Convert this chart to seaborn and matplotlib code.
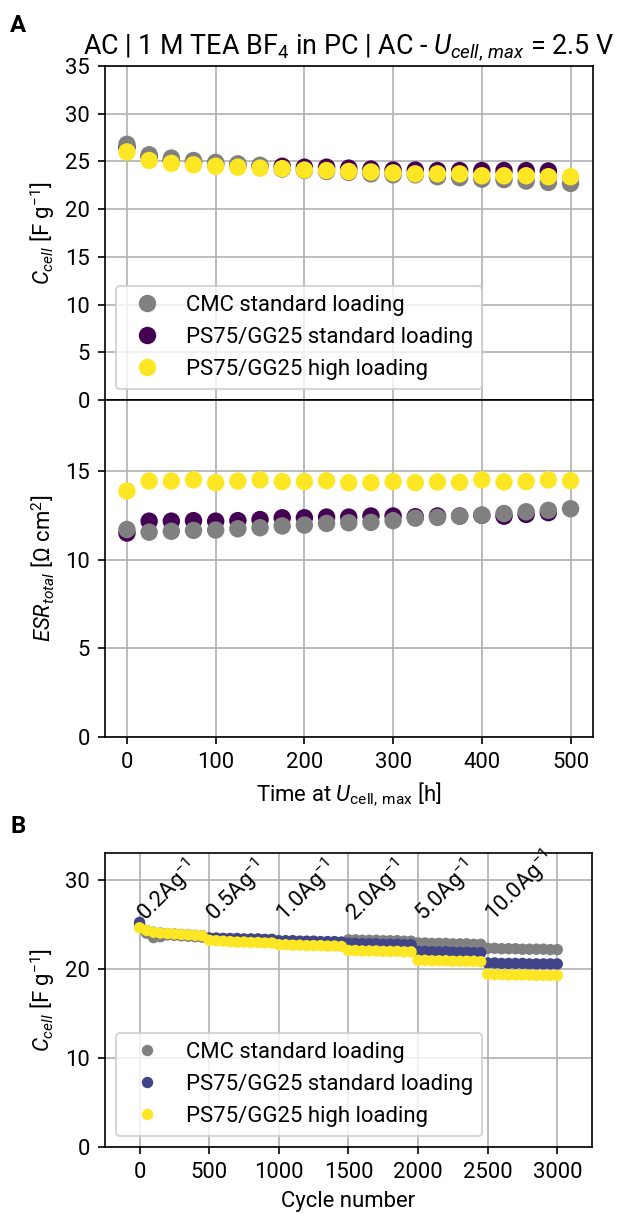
import numpy as np
import pandas as pd
import matplotlib
matplotlib.use("Agg")
import matplotlib.pyplot as plt
import seaborn as sns

# ---------------- data ----------------
labels = ["CMC standard loading", "PS75/GG25 standard loading", "PS75/GG25 high loading"]

# A: float test, every 25 h
time_h = [0, 25, 50, 75, 100, 125, 150, 175, 200, 225, 250,
          275, 300, 325, 350, 375, 400, 425, 450, 475, 500]
cap_cmc = [26.8, 25.7, 25.35, 25.1, 24.9, 24.75, 24.6, 24.2, 24.05, 23.95, 23.85,
           23.7, 23.6, 23.6, 23.4, 23.3, 23.15, 23.1, 22.95, 22.8, 22.7]
cap_ps_std = [26.5, 25.5, 25.1, 24.9, 24.7, 24.6, 24.5, 24.5, 24.4, 24.4,
              24.3, 24.2, 24.1, 24.1, 24.05, 24.05, 24.05, 24.05, 24.05, 24.0]
cap_ps_high = [26.0, 25.1, 24.8, 24.65, 24.5, 24.4, 24.3, 24.25, 24.1, 24.05, 23.95,
               23.9, 23.8, 23.7, 23.7, 23.7, 23.5, 23.5, 23.5, 23.4, 23.4]
esr_cmc = [11.7, 11.55, 11.6, 11.65, 11.67, 11.74, 11.8, 11.9, 11.95, 12.04, 12.08,
           12.1, 12.2, 12.34, 12.38, 12.45, 12.5, 12.6, 12.7, 12.78, 12.87]
esr_ps_std = [11.5, 12.17, 12.17, 12.2, 12.17, 12.2, 12.26, 12.36, 12.36, 12.4,
              12.4, 12.46, 12.46, 12.42, 12.46, 12.46, 12.5, 12.45, 12.55, 12.65]
esr_ps_high = [13.87, 14.43, 14.43, 14.5, 14.34, 14.43, 14.5, 14.4, 14.4, 14.45, 14.34,
               14.34, 14.4, 14.34, 14.38, 14.36, 14.5, 14.38, 14.4, 14.5, 14.45]

# B: rate test, every 50 cycles
cycles = list(range(0, 3001, 50))
rate_cmc = [24.8, 24.0, 23.5, 23.6, 23.8, 23.75, 23.7, 23.65, 23.6, 23.55,
            23.45, 23.4, 23.4, 23.35, 23.35, 23.3, 23.3, 23.3, 23.25, 23.25,
            23.1, 23.1, 23.1, 23.05, 23.05, 23.05, 23.0, 23.0, 23.0, 22.95,
            23.25, 23.25, 23.2, 23.2, 23.2, 23.15, 23.15, 23.15, 23.1, 23.1,
            22.9, 22.9, 22.85, 22.85, 22.85, 22.8, 22.8, 22.8, 22.75, 22.75,
            22.3, 22.3, 22.25, 22.25, 22.25, 22.2, 22.2, 22.2, 22.2, 22.15, 22.15]
rate_ps_std = [25.2, 24.3, 24.1, 24.0, 23.95, 23.9, 23.85, 23.8, 23.75, 23.7,
               23.45, 23.45, 23.4, 23.4, 23.4, 23.35, 23.35, 23.35, 23.3, 23.3,
               23.15, 23.15, 23.15, 23.1, 23.1, 23.1, 23.05, 23.05, 23.05, 23.0,
               22.85, 22.85, 22.8, 22.8, 22.8, 22.75, 22.75, 22.75, 22.7, 22.7,
               21.95, 21.95, 21.9, 21.9, 21.9, 21.85, 21.85, 21.85, 21.8, 21.8,
               20.65, 20.65, 20.6, 20.6, 20.6, 20.6, 20.55, 20.55, 20.55, 20.55, 20.55]
rate_ps_high = [24.6, 24.3, 24.1, 24.0, 23.95, 23.9, 23.85, 23.8, 23.75, 23.7,
                23.2, 23.15, 23.1, 23.05, 23.0, 23.0, 22.95, 22.95, 22.9, 22.9,
                22.7, 22.7, 22.65, 22.65, 22.6, 22.6, 22.6, 22.55, 22.55, 22.5,
                22.05, 22.05, 22.0, 22.0, 22.0, 21.95, 21.95, 21.95, 21.9, 21.9,
                20.95, 20.95, 20.9, 20.9, 20.9, 20.85, 20.85, 20.85, 20.85, 20.8,
                19.4, 19.35, 19.35, 19.3, 19.3, 19.3, 19.3, 19.25, 19.25, 19.25, 19.25]
rate_labels = ["0.2", "0.5", "1.0", "2.0", "5.0", "10.0"]
rate_start = [0, 500, 1000, 1500, 2000, 2500]

pal_a = {labels[0]: "#808080", labels[1]: "#440154", labels[2]: "#fde725"}
pal_b = {labels[0]: "#808080", labels[1]: "#414487", labels[2]: "#fde725"}


def frame(x, ys, order):
    parts = []
    for i in order:
        n = len(ys[i])
        parts.append(pd.DataFrame({"x": x[:n], "y": ys[i], "sample": labels[i]}))
    return pd.concat(parts, ignore_index=True)


# draw order: purple below grey, yellow on top (as in the original)
df_cap = frame(time_h, [cap_cmc, cap_ps_std, cap_ps_high], [1, 0, 2])
df_esr = frame(time_h, [esr_cmc, esr_ps_std, esr_ps_high], [1, 0, 2])
df_rate = frame(cycles, [rate_cmc, rate_ps_std, rate_ps_high], [0, 1, 2])

# ---------------- style ----------------
plt.rcParams["font.family"] = ["Roboto", "DejaVu Sans"]
plt.rcParams["font.size"] = 10.6
plt.rcParams["mathtext.fontset"] = "custom"
plt.rcParams["mathtext.rm"] = "Roboto"
plt.rcParams["mathtext.it"] = "Roboto:italic"
plt.rcParams["mathtext.bf"] = "Roboto:bold"
plt.rcParams["mathtext.sf"] = "Roboto"

fig = plt.figure(figsize=(620 / 150, 1214 / 150), dpi=150)
ax1 = fig.add_axes([0.169, 0.6705, 0.787, 0.2751])
ax2 = fig.add_axes([0.169, 0.3929, 0.787, 0.2776], sharex=ax1)
ax3 = fig.add_axes([0.169, 0.0552, 0.786, 0.2422])

sns.scatterplot(data=df_cap, x="x", y="y", hue="sample", hue_order=labels,
                palette=pal_a, s=70, linewidth=0, ax=ax1)
sns.scatterplot(data=df_esr, x="x", y="y", hue="sample", hue_order=labels,
                palette=pal_a, s=70, linewidth=0, ax=ax2, legend=False)
sns.scatterplot(data=df_rate, x="x", y="y", hue="sample", hue_order=labels,
                palette=pal_b, s=30, linewidth=0, ax=ax3)

for ax in (ax1, ax2, ax3):
    ax.grid(True, color="#b0b0b0", linewidth=0.8)
    ax.set_axisbelow(True)

ax1.set_xlim(-25, 525)
ax1.set_ylim(0, 35)
ax1.set_yticks(np.arange(0, 36, 5))
ax1.tick_params(axis="x", labelbottom=False, length=0)
ax1.set_xlabel("")
ax1.set_ylabel(r"$C_{cell}$ [F g$^{-1}$]")
ax1.set_title(r"AC | 1 M TEA BF$_4$ in PC | AC - $U_{cell,\,max}$ = 2.5 V", fontsize=12.9)
sns.move_legend(ax1, "lower left", title=None)

ax2.set_ylim(0, 19)
ax2.set_yticks([0, 5, 10, 15])
ax2.set_xticks(np.arange(0, 501, 100))
ax2.set_xlabel(r"Time at $U_{\rm cell,\,max}$ [h]")
ax2.set_ylabel(r"$ESR_{total}$ [Ω cm$^2$]")

ax3.set_xlim(-250, 3250)
ax3.set_ylim(0, 33)
ax3.set_yticks([0, 10, 20, 30])
ax3.set_xticks(np.arange(0, 3001, 500))
ax3.set_xlabel("Cycle number")
ax3.set_ylabel(r"$C_{cell}$ [F g$^{-1}$]")
sns.move_legend(ax3, "lower left", title=None)

for lab, x0 in zip(rate_labels, rate_start):
    ax3.text(x0 + 45, 25.2, lab + r"Ag$^{-1}$", rotation=45, rotation_mode="anchor",
             ha="left", va="baseline", fontsize=10.6)

fig.text(0.029, 0.979, "A", fontsize=11.5, fontweight="bold", ha="center", va="center")
fig.text(0.029, 0.319, "B", fontsize=11.5, fontweight="bold", ha="center", va="center")

fig.savefig("out.png", dpi=150)
